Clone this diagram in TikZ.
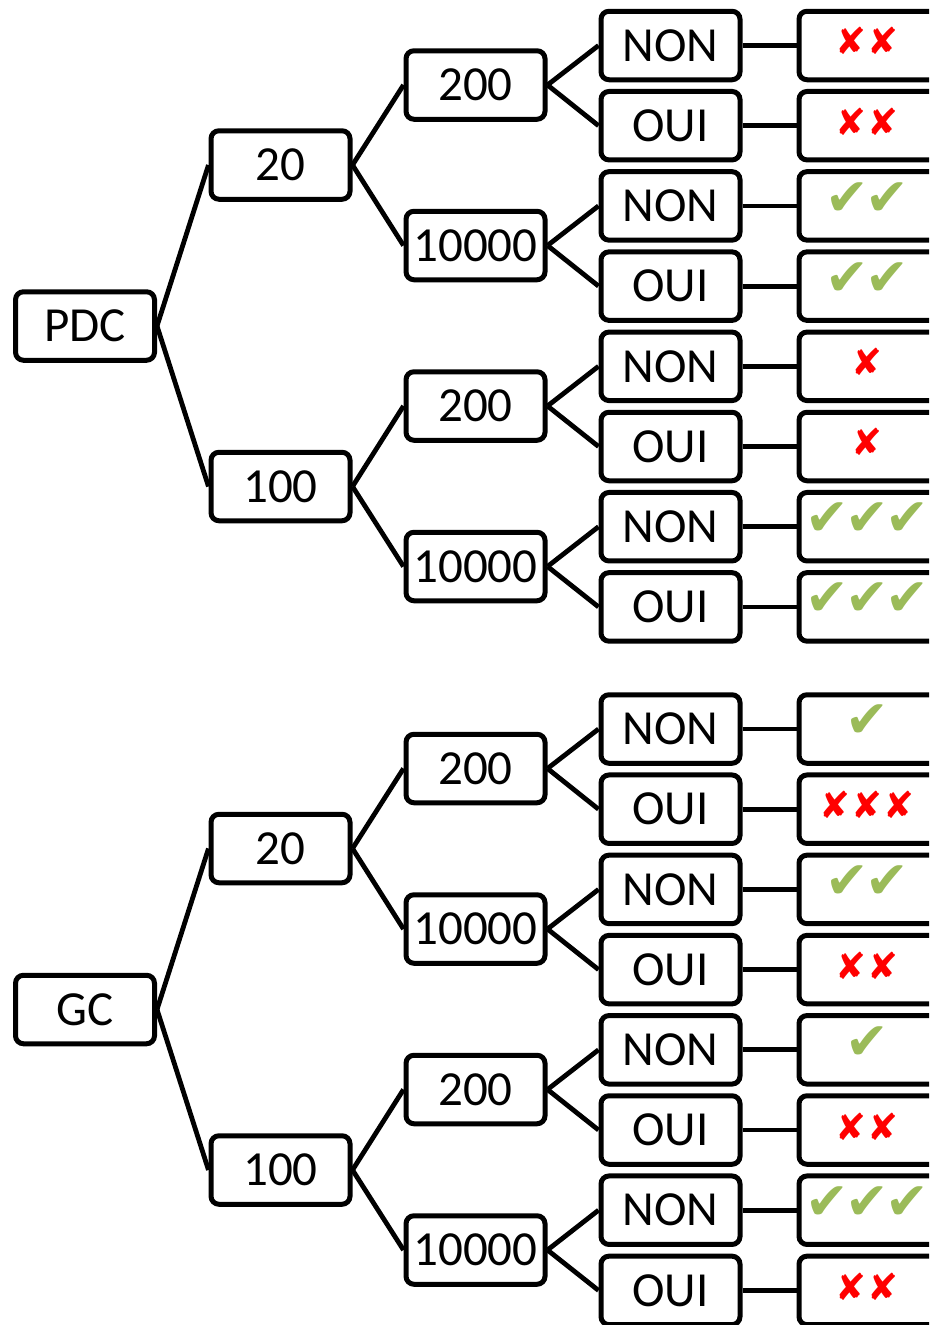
\documentclass[tikz,border=0pt]{standalone}
\usepackage{fontspec}
\setmainfont{Carlito}
\newfontfamily\symfont{DejaVu Sans}
\definecolor{okgreen}{HTML}{9BBB59}
\definecolor{kored}{HTML}{FF0000}
\newcommand\OKm{\makebox[40pt]{\symfont\fontsize{52}{52}\selectfont\textcolor{okgreen}{✔}}}
\newcommand\KOm{\makebox[32pt]{\symfont\fontsize{37}{37}\selectfont\textcolor{kored}{✘}}}
\begin{document}
\begin{tikzpicture}[x=1pt,y=-1pt,
  box/.style={draw,line width=5pt,rounded corners=8pt,minimum width=139pt,minimum height=68.5pt,inner sep=0pt,font=\fontsize{49}{50}\selectfont},
  res/.style={draw,line width=5pt,rounded corners=8pt,minimum width=220pt,minimum height=68.5pt,anchor=west,inner sep=0pt},
  conn/.style={line width=4.8pt},
  sym/.style={inner sep=0pt}]
\useasboundingbox (0,0) rectangle (929,1325);
\clip (0,0) rectangle (929,1325);
\foreach \t/\rt/\y in {A/PDC/0, B/GC/683.5}{
  \node[box] (\t r) at (85,326+\y) {\rt};
  \node[box] (\t 1) at (280.5,165+\y) {20};
  \node[box] (\t 2) at (280.5,486.5+\y) {100};
  \node[box] (\t 11) at (475.5,85+\y) {200};
  \node[box] (\t 12) at (475.5,245.5+\y) {10000};
  \node[box] (\t 21) at (475.5,406+\y) {200};
  \node[box] (\t 22) at (475.5,566.5+\y) {10000};
  \draw[conn] (\t r.east) -- (\t 1.west);
  \draw[conn] (\t r.east) -- (\t 2.west);
  \draw[conn] (\t 1.east) -- (\t 11.west);
  \draw[conn] (\t 1.east) -- (\t 12.west);
  \draw[conn] (\t 2.east) -- (\t 21.west);
  \draw[conn] (\t 2.east) -- (\t 22.west);
  \foreach \k/\p/\lab in {1/11/NON,2/11/OUI,3/12/NON,4/12/OUI,5/21/NON,6/21/OUI,7/22/NON,8/22/OUI}{
    \node[box] (\t l\k) at (670.5,45.5+80.2*\k-80.2+\y) {\lab};
    \node[res] (\t x\k) at (796.5,45.5+80.2*\k-80.2+\y) {};
    \draw[conn] (\t \p.east) -- (\t l\k.west);
    \draw[conn] (\t l\k.east) -- (\t x\k.west);
  }
}
\node[sym] (As1) at (867,41) {\KOm\KOm};
\node[sym] (As2) at (867,122) {\KOm\KOm};
\node[sym] (As3) at (867,199) {\OKm\OKm};
\node[sym] (As4) at (867,279) {\OKm\OKm};
\node[sym] (As5) at (867,362) {\KOm};
\node[sym] (As6) at (867,442) {\KOm};
\node[sym] (As7) at (867,519) {\OKm\OKm\OKm};
\node[sym] (As8) at (867,599) {\OKm\OKm\OKm};
\node[sym] (Bs1) at (867,721) {\OKm};
\node[sym] (Bs2) at (867,805) {\KOm\KOm\KOm};
\node[sym] (Bs3) at (867,882) {\OKm\OKm};
\node[sym] (Bs4) at (867,966) {\KOm\KOm};
\node[sym] (Bs5) at (867,1043) {\OKm};
\node[sym] (Bs6) at (867,1127) {\KOm\KOm};
\node[sym] (Bs7) at (867,1203) {\OKm\OKm\OKm};
\node[sym] (Bs8) at (867,1287) {\KOm\KOm};
\end{tikzpicture}
\end{document}
